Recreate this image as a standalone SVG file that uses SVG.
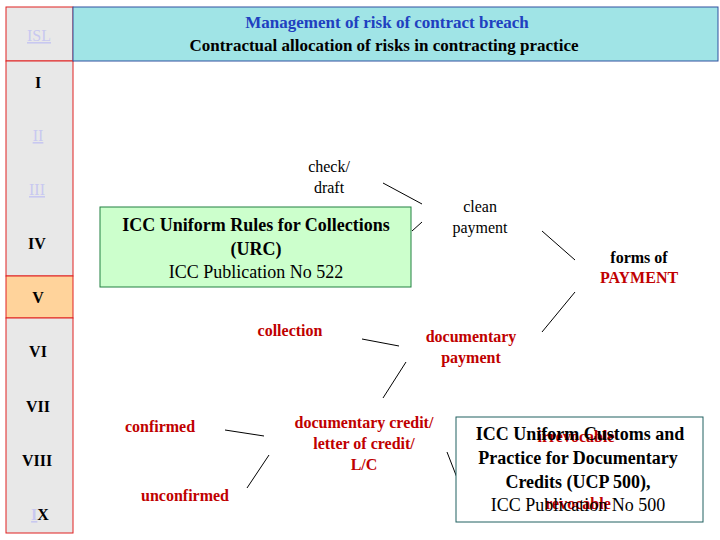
<svg xmlns="http://www.w3.org/2000/svg" width="720" height="540" viewBox="0 0 720 540" font-family="Liberation Serif, DejaVu Serif, serif">
<style>
text{font-family:'Liberation Serif','DejaVu Serif',serif;font-size:16px;text-anchor:middle}
.b{font-weight:bold}
.r{fill:#c00000}
.side{fill:#e8e8e8;stroke:#e02020;stroke-width:1}
.faint{fill:#c8c8f0;text-decoration:underline}
#connectors line{stroke:#000;stroke-width:1}
</style>
<rect width="720" height="540" fill="#fff"/>
<g id="sidebar">
<rect class="side" x="6" y="7" width="67" height="54"/>
<rect class="side" x="6" y="61" width="67" height="215"/>
<rect x="6" y="276" width="67" height="42" fill="#ffd39b" stroke="#e02020"/>
<rect class="side" x="6" y="318" width="67" height="215"/>
<text x="39" y="41" class="faint">ISL</text>
<text x="38" y="88" class="b">I</text>
<text x="38" y="141" class="faint">II</text>
<text x="37" y="195" class="faint">III</text>
<text x="37" y="249" class="b">IV</text>
<text x="38" y="303" class="b">V</text>
<text x="38" y="357" class="b">VI</text>
<text x="38" y="412" class="b">VII</text>
<text x="37" y="466" class="b">VIII</text>
<text x="40" y="520" class="b"><tspan class="faint">I</tspan>X</text>
</g>
<g id="title">
<rect x="73" y="7" width="645" height="54" fill="#a0e4e6" stroke="#3050a0"/>
<text x="387" y="28" class="b" style="font-size:17px;fill:#2040c0">Management of risk of contract breach</text>
<text x="384" y="51" class="b" style="font-size:17px">Contractual allocation of risks in contracting practice</text>
</g>
<g id="connectors">
<line x1="383" y1="183" x2="422" y2="204"/>
<line x1="412" y1="231" x2="422" y2="222"/>
<line x1="542" y1="231" x2="575" y2="260"/>
<line x1="575" y1="292" x2="542" y2="332"/>
<line x1="362" y1="339" x2="399" y2="346"/>
<line x1="406" y1="362" x2="383" y2="398"/>
<line x1="225" y1="430" x2="264" y2="436"/>
<line x1="247" y1="488" x2="269" y2="455"/>
<line x1="447" y1="452" x2="461" y2="488"/>
</g>
<g id="check"><text x="329" y="172">check/</text><text x="329" y="193">draft</text></g>
<g id="urc">
<rect x="100" y="207" width="311" height="80" fill="#ccffcc" stroke="#208040"/>
<text x="256" y="231" class="b" style="font-size:18px">ICC Uniform Rules for Collections</text>
<text x="256" y="255" class="b" style="font-size:18px">(URC)</text>
<text x="256" y="278" style="font-size:18px">ICC Publication No 522</text>
</g>
<g id="clean"><text x="480" y="212">clean</text><text x="480" y="233">payment</text></g>
<g id="forms"><text x="639" y="263" class="b">forms of</text><text x="639" y="283" class="b r">PAYMENT</text></g>
<g id="collection"><text x="290" y="336" class="b r">collection</text></g>
<g id="docpay"><text x="471" y="342" class="b r">documentary</text><text x="471" y="363" class="b r">payment</text></g>
<g id="lc"><text x="364" y="428" class="b r">documentary credit/</text><text x="364" y="449" class="b r">letter of credit/</text><text x="364" y="470" class="b r">L/C</text></g>
<g id="confirmed"><text x="160" y="432" class="b r">confirmed</text></g>
<g id="unconfirmed"><text x="185" y="501" class="b r">unconfirmed</text></g>
<g id="ucp">
<rect x="456" y="417" width="247" height="105" fill="#fff" stroke="#206060"/>
<text x="576" y="442" class="b r">irrevocable</text>
<text x="578" y="509" class="b r">revocable</text>
<text x="580" y="440" class="b" style="font-size:18px">ICC Uniform Customs and</text>
<text x="578" y="464" class="b" style="font-size:18px">Practice for Documentary</text>
<text x="578" y="488" class="b" style="font-size:18px">Credits (UCP 500),</text>
<text x="578" y="511" style="font-size:18px">ICC Publication No 500</text>
</g>
</svg>
